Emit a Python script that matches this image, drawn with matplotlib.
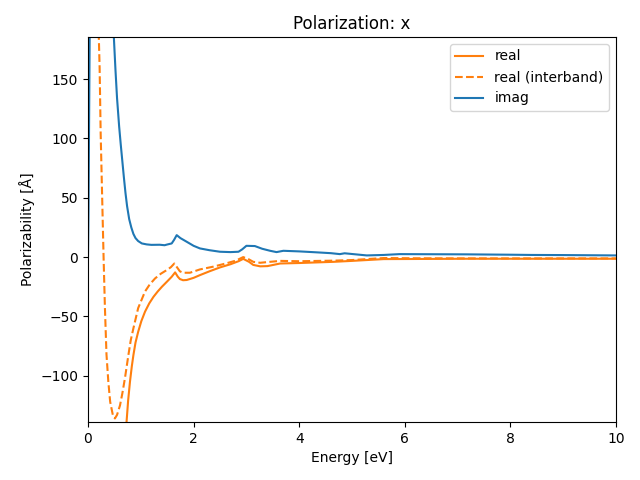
import matplotlib
matplotlib.use("Agg")
import matplotlib.pyplot as plt
import numpy as np

# Energy grid points (eV) and values
energy_imag = [0.0, 0.01, 0.02, 0.03, 0.05, 0.44, 0.49, 0.52, 0.55, 0.59, 0.62, 0.65, 0.68, 0.71, 0.74,
               0.78, 0.82, 0.86, 0.90, 0.95, 1.02, 1.11, 1.2, 1.36, 1.45, 1.5, 1.585, 1.63, 1.68, 1.75,
               1.87, 2.0, 2.12, 2.3, 2.5, 2.7, 2.85, 2.92, 3.0, 3.16, 3.3, 3.45, 3.57, 3.7, 4.0,
               4.33, 4.6, 4.77, 4.86, 5.0, 5.28, 5.6, 5.9, 6.5, 7.17, 8.0, 8.4, 9.0, 10.0]
imag = [0.0, 40, 110, 175, 300, 300, 185, 158, 134, 110, 95, 81, 67, 54, 43,
        32, 25, 19.5, 16, 13.5, 11.5, 10.7, 10.3, 10.4, 10.0, 10.6, 11.5, 14.5, 18.5, 16.0,
        12.9, 9.5, 7.3, 5.8, 4.5, 4.2, 4.5, 6.5, 9.5, 9.3, 7.0, 5.3, 4.2, 5.3, 4.8,
        4.0, 3.3, 2.5, 3.2, 2.6, 1.4, 1.8, 2.5, 2.4, 2.3, 2.0, 1.8, 1.7, 1.4]

energy_real = [0.70, 0.73, 0.76, 0.795, 0.83, 0.86, 0.90, 0.95, 1.01, 1.08, 1.16, 1.24, 1.32, 1.40,
               1.50, 1.585, 1.65, 1.70, 1.74, 1.80, 1.87, 2.0, 2.12, 2.3, 2.5, 2.7, 2.85, 2.94,
               3.05, 3.13, 3.26, 3.4, 3.64, 4.0, 4.65, 5.0, 5.6, 6.2, 7.17, 8.0, 9.0, 10.0]
real = [-175, -139, -121, -105, -92, -82.6, -72, -63, -54, -46, -39, -33.5, -29, -25,
        -20.5, -16.6, -12.9, -16.5, -18.5, -19.5, -19.3, -17.5, -15.2, -12, -8.7, -6, -3.5, -1.5,
        -4.0, -6.6, -7.8, -7.6, -5.4, -5.0, -4.0, -3.2, -1.7, -1.6, -1.4, -1.4, -1.4, -1.4]

energy_inter = [0.17, 0.205, 0.22, 0.24, 0.27, 0.295, 0.32, 0.35, 0.385, 0.42, 0.47, 0.51, 0.55,
                0.606, 0.65, 0.70, 0.765, 0.81, 0.86, 0.95, 1.08, 1.17, 1.27, 1.38, 1.49, 1.57, 1.635,
                1.70, 1.74, 1.80, 1.93, 2.12, 2.37, 2.6, 2.8, 2.94, 3.05, 3.13, 3.26, 3.4, 3.64,
                4.0, 4.65, 5.0, 5.6, 6.2, 7.17, 8.0, 9.0, 10.0]
real_inter = [320, 185, 160, 104, 47, 0, -42, -82, -105, -122, -133, -136, -133,
              -125, -115, -102, -82.6, -70, -60, -43, -29, -23, -18, -14, -11, -8.5, -5.4,
              -9.5, -12.0, -13.2, -13.2, -10.4, -8.1, -5.5, -3.0, 0.0, -2.0, -4.0, -4.8, -4.2, -3.2,
              -3.5, -3.0, -2.5, -0.8, -1.0, -1.1, -1.1, -1.1, -1.1]

fig, ax = plt.subplots(figsize=(6.4, 4.8), dpi=100)
ax.plot(energy_real, real, color="C1", label="real")
ax.plot(energy_inter, real_inter, color="C1", linestyle="--", label="real (interband)")
ax.plot(energy_imag, imag, color="C0", label="imag")
ax.set_xlim(0, 10)
ax.set_ylim(-139, 185.5)
ax.set_xlabel("Energy [eV]")
ax.set_ylabel("Polarizability [Å]")
ax.set_title("Polarization: x")
ax.legend(loc="upper right")
fig.subplots_adjust(left=88/640, right=616/640, top=1-37/480, bottom=1-422/480)
fig.savefig("out.png", dpi=100)
